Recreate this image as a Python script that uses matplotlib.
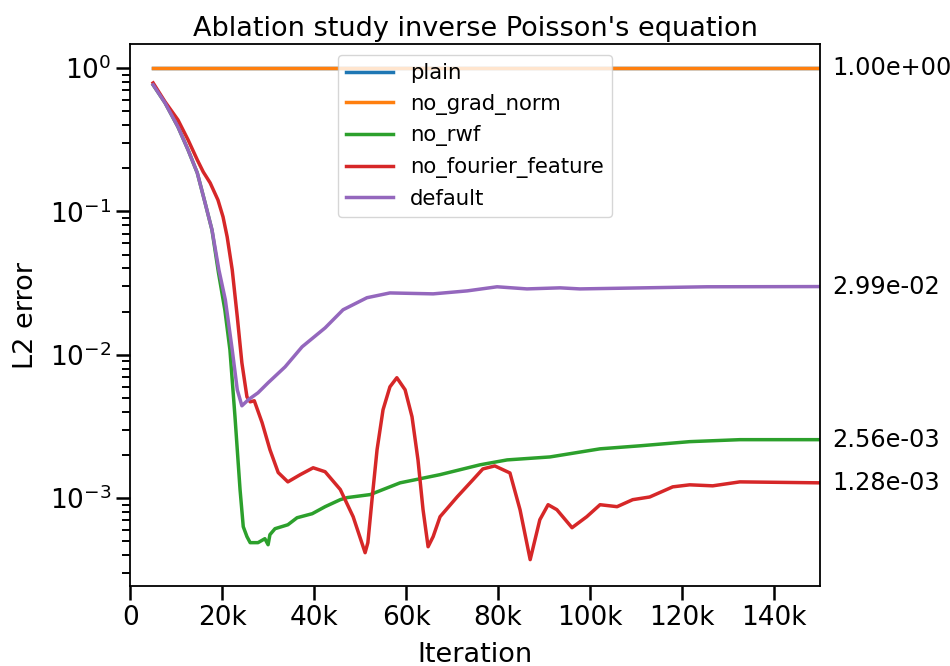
import matplotlib
matplotlib.use("Agg")
import matplotlib.pyplot as plt
import matplotlib.transforms as mtransforms
from matplotlib.ticker import FuncFormatter

# iterations and L2 errors
plain_x = [5000, 150000]
plain_y = [1.0, 1.0]

no_grad_norm_x = [5000, 150000]
no_grad_norm_y = [1.0, 1.0]

no_rwf_x = [5000, 7600, 10400, 12600, 14600, 16300, 17800, 19200, 20600, 21700,
            22800, 23900, 24600, 25400, 26100, 27800, 29300, 30000, 30400, 31500,
            34300, 36300, 39600, 42400, 45700, 47200, 52200, 58700, 67400, 76100,
            82000, 91300, 102200, 110900, 121700, 132600, 150000]
no_rwf_y = [0.762, 0.570, 0.388, 0.268, 0.1855, 0.1146, 0.0740, 0.0375, 0.0205, 0.01083,
            0.0037, 0.00115, 0.000633, 0.00054, 0.00049, 0.00049, 0.000522, 0.000474, 0.000557, 0.000613,
            0.000653, 0.000731, 0.00078, 0.000873, 0.000977, 0.00101, 0.00106, 0.00128, 0.00146, 0.00171,
            0.00185, 0.00194, 0.00221, 0.00232, 0.00248, 0.00256, 0.00256]

no_fourier_x = [5000, 7600, 10400, 12600, 14600, 15900, 17400, 19100, 20200, 21100,
                22200, 23300, 24300, 25400, 26100, 27000, 28700, 30400, 32200, 34300,
                37000, 39800, 42400, 45700, 48500, 51100, 51700, 52600, 53700, 55000,
                56500, 58000, 59800, 61300, 62600, 63700, 64800, 65900, 67400, 71100,
                74600, 76700, 79300, 82600, 84800, 87000, 89100, 90900, 92800, 96100,
                99300, 102200, 105900, 109300, 113000, 118000, 121700, 126700, 132600, 150000]
no_fourier_y = [0.786, 0.580, 0.434, 0.315, 0.2286, 0.1884, 0.158, 0.120, 0.0916, 0.0664,
                0.0391, 0.0184, 0.00879, 0.00509, 0.0047, 0.00478, 0.00336, 0.00218, 0.00151, 0.0013,
                0.00146, 0.00163, 0.00153, 0.00115, 0.000743, 0.000417, 0.00049, 0.000977, 0.00218, 0.00414,
                0.00598, 0.00692, 0.0057, 0.0037, 0.00185, 0.000832, 0.000459, 0.00054, 0.000743, 0.00102,
                0.00135, 0.0016, 0.00168, 0.0015, 0.00083, 0.000373, 0.000708, 0.000901, 0.000832, 0.000623,
                0.000743, 0.000901, 0.000873, 0.000977, 0.00102, 0.0012, 0.00124, 0.00122, 0.0013, 0.00128]

default_x = [5000, 7600, 10400, 12600, 14600, 16300, 17800, 19300, 20700, 22200,
             23300, 24300, 25700, 27800, 30000, 33700, 37400, 42400, 46300, 51500,
             56500, 65900, 73300, 79800, 86300, 93500, 97800, 125400, 150000]
default_y = [0.762, 0.570, 0.388, 0.268, 0.1855, 0.1146, 0.0743, 0.0391, 0.0242, 0.01083,
             0.0057, 0.00441, 0.00486, 0.00543, 0.00638, 0.00824, 0.01137, 0.0154, 0.0206, 0.0250,
             0.0270, 0.0266, 0.0279, 0.0298, 0.0288, 0.0293, 0.0288, 0.0298, 0.0299]

series = [
    ("plain", plain_x, plain_y, "#1f77b4"),
    ("no_grad_norm", no_grad_norm_x, no_grad_norm_y, "#ff7f0e"),
    ("no_rwf", no_rwf_x, no_rwf_y, "#2ca02c"),
    ("no_fourier_feature", no_fourier_x, no_fourier_y, "#d62728"),
    ("default", default_x, default_y, "#9467bd"),
]

plt.rcParams.update({
    "font.family": ["DejaVu Sans"],
    "xtick.major.size": 10,
    "ytick.major.size": 10,
    "ytick.minor.size": 6,
    "xtick.major.width": 1.8,
    "ytick.major.width": 1.8,
    "ytick.minor.width": 1.4,
    "axes.linewidth": 1.3,
})

fig = plt.figure(figsize=(9.5, 6.66), dpi=100)
ax = fig.add_axes([0.137, 0.12, 0.726, 0.814])

for name, xs, ys, color in series:
    ax.plot(xs, ys, color=color, lw=2.5, label=name)

ax.set_yscale("log")
ax.set_xlim(0, 150000)
ax.set_ylim(2.44e-4, 1.47)
ax.set_xticks([0, 20000, 40000, 60000, 80000, 100000, 120000, 140000])
ax.xaxis.set_major_formatter(FuncFormatter(lambda v, p: "0" if v == 0 else f"{int(v / 1000)}k"))
ax.tick_params(labelsize=19)

ax.set_xlabel("Iteration", fontsize=19.5, labelpad=8)
ax.set_ylabel("L2 error", fontsize=19.5, labelpad=8)
ax.set_title("Ablation study inverse Poisson's equation", fontsize=19.5, pad=6)

ax.legend(loc="upper center", fontsize=15.3, handlelength=2.2)

# final values written beside the right spine
trans = mtransforms.blended_transform_factory(ax.transAxes, ax.transData)
for name, xs, ys, color in series[1:]:
    ax.text(1.018, ys[-1], f"{ys[-1]:.2e}", transform=trans, fontsize=17.3,
            va="center", ha="left")

fig.savefig("out.png", dpi=100)
